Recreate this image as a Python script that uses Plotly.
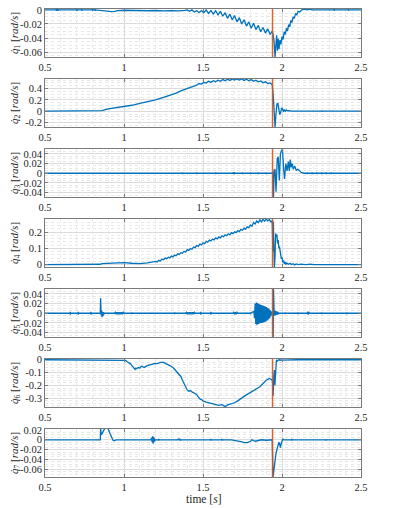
import plotly.graph_objects as go
from plotly.subplots import make_subplots

# Joint velocities (time in s, velocity in rad/s)

t1 = [0.5, 0.570, 0.571, 0.573, 0.575, 0.580, 0.581, 0.583, 0.585,
      0.700, 0.701, 0.703, 0.705, 0.730, 0.731, 0.733, 0.735,
      0.800, 0.801, 0.803, 0.805, 0.815, 0.816, 0.818, 0.820,
      0.860, 0.880, 0.900, 0.920, 0.940, 0.960, 1.000, 1.050, 1.100, 1.150,
      1.200, 1.250, 1.300, 1.350, 1.385,
      1.400, 1.415, 1.430, 1.445, 1.460, 1.475, 1.490, 1.505, 1.520, 1.535,
      1.550, 1.565, 1.580, 1.595, 1.610, 1.625, 1.640, 1.655, 1.670, 1.685,
      1.700, 1.715, 1.730, 1.745, 1.760, 1.775, 1.790, 1.805, 1.820, 1.835,
      1.850, 1.865, 1.880, 1.895, 1.910, 1.925, 1.938,
      1.944, 1.950, 1.956, 1.961, 1.966, 1.971, 1.976, 1.981, 1.987, 1.993,
      2.000, 2.007, 2.014, 2.021, 2.028, 2.035, 2.042, 2.049, 2.056, 2.063,
      2.070, 2.078, 2.086, 2.094, 2.102, 2.112, 2.125, 2.145, 2.160, 2.175, 2.190,
      2.329, 2.330, 2.331, 2.332, 2.419, 2.420, 2.421, 2.422, 2.5]
q1 = [0.0, 0.0, 0.0012, -0.0012, 0.0, 0.0, 0.0012, -0.0012, 0.0,
      0.0, 0.0012, -0.0012, 0.0, 0.0, 0.0012, -0.0012, 0.0,
      0.0, 0.0012, -0.0012, 0.0, 0.0, 0.0012, -0.0012, 0.0,
      -0.001, -0.0025, -0.003, -0.0025, -0.002, -0.001, -0.0005, -0.001, -0.0008, -0.0012,
      -0.0008, -0.0015, -0.001, -0.0015, -0.0005,
      0.000, -0.002, 0.000, -0.003, -0.001, -0.004, -0.001, -0.004, 0.000, -0.005,
      -0.001, -0.006, -0.001, -0.007, -0.002, -0.009, -0.004, -0.012, -0.006, -0.014,
      -0.008, -0.017, -0.011, -0.020, -0.014, -0.023, -0.017, -0.026, -0.019, -0.028,
      -0.022, -0.031, -0.025, -0.033, -0.027, -0.035, -0.030,
      -0.036, -0.045, -0.067, -0.040, -0.036, -0.058, -0.041, -0.056, -0.043, -0.049,
      -0.038, -0.042, -0.031, -0.035, -0.026, -0.030, -0.021, -0.024, -0.015, -0.018,
      -0.010, -0.012, -0.005, -0.007, -0.002, -0.003, 0.000, 0.001, 0.000, 0.001, 0.000,
      0.0, 0.0012, -0.0012, 0.0, 0.0, 0.0012, -0.0012, 0.0, 0.0]

t2 = [0.5, 0.850, 0.860, 0.900, 0.950, 1.000, 1.050, 1.100, 1.150, 1.200, 1.250,
      1.300, 1.330, 1.360, 1.400, 1.430,
      1.460, 1.475, 1.490, 1.505, 1.520, 1.535, 1.550, 1.565, 1.580, 1.595,
      1.610, 1.625, 1.640, 1.655, 1.670, 1.685, 1.700, 1.715, 1.730, 1.745,
      1.760, 1.775, 1.790, 1.805, 1.820, 1.835, 1.850, 1.865, 1.880, 1.895,
      1.910, 1.925, 1.938,
      1.944, 1.950, 1.956, 1.962, 1.968, 1.974, 1.980, 1.986, 1.992, 1.998,
      2.004, 2.010, 2.016, 2.022, 2.028, 2.036, 2.045, 2.060,
      2.249, 2.250, 2.254, 2.258, 2.5]
q2 = [0.0, 0.0, 0.010, 0.040, 0.060, 0.080, 0.105, 0.140, 0.170, 0.200, 0.245,
      0.290, 0.320, 0.360, 0.400, 0.440,
      0.460, 0.490, 0.480, 0.510, 0.500, 0.530, 0.510, 0.540, 0.520, 0.550,
      0.530, 0.560, 0.540, 0.565, 0.545, 0.570, 0.550, 0.570, 0.550, 0.570,
      0.545, 0.565, 0.540, 0.560, 0.530, 0.550, 0.520, 0.535, 0.505, 0.520,
      0.490, 0.500, 0.470,
      0.300, -0.100, -0.280, -0.050, 0.130, 0.140, 0.020, -0.060, -0.020, 0.060,
      0.040, -0.010, 0.030, 0.000, 0.020, 0.005, 0.010, 0.0,
      0.0, 0.010, -0.004, 0.0, 0.0]

t3 = [0.5,
      1.369, 1.370, 1.371, 1.372, 1.459, 1.460, 1.461, 1.462,
      1.579, 1.580, 1.581, 1.582, 1.689, 1.692, 1.695, 1.698, 1.701,
      1.749, 1.750, 1.751, 1.752, 1.799, 1.800, 1.801, 1.802,
      1.849, 1.850, 1.851, 1.852, 1.899, 1.900, 1.901, 1.902,
      1.938, 1.943, 1.946, 1.950, 1.956, 1.962, 1.970, 1.976, 1.983, 1.990,
      1.996, 2.003, 2.010, 2.016, 2.024, 2.032, 2.040, 2.046, 2.052, 2.058,
      2.064, 2.072, 2.080, 2.090, 2.100, 2.110, 2.120, 2.140,
      2.159, 2.160, 2.161, 2.162, 2.189, 2.190, 2.191, 2.192,
      2.219, 2.220, 2.221, 2.222, 2.249, 2.250, 2.251, 2.252,
      2.279, 2.280, 2.281, 2.282, 2.309, 2.310, 2.311, 2.312, 2.5]
q3 = [0.0,
      0.0, 0.002, -0.002, 0.0, 0.0, 0.002, -0.002, 0.0,
      0.0, 0.002, -0.002, 0.0, 0.0, 0.002, -0.002, 0.002, 0.0,
      0.0, 0.002, -0.002, 0.0, 0.0, 0.002, -0.002, 0.0,
      0.0, 0.002, -0.002, 0.0, 0.0, 0.002, -0.002, 0.0,
      0.0, 0.002, -0.049, 0.006, 0.008, -0.038, 0.030, 0.034, -0.015, 0.040,
      0.046, 0.050, 0.010, -0.012, 0.020, 0.005, 0.024, 0.005, 0.028, 0.012,
      0.020, 0.008, 0.015, 0.006, 0.008, 0.004, 0.002, 0.0,
      0.0, 0.002, -0.002, 0.0, 0.0, 0.002, -0.002, 0.0,
      0.0, 0.002, -0.002, 0.0, 0.0, 0.002, -0.002, 0.0,
      0.0, 0.002, -0.002, 0.0, 0.0, 0.002, -0.002, 0.0, 0.0]

t4 = [0.5, 0.600, 0.700, 0.800, 0.850, 0.860, 0.900, 0.950, 0.980, 1.000, 1.050,
      1.100, 1.150,
      1.20, 1.21, 1.22, 1.23, 1.24, 1.25, 1.26, 1.27, 1.28, 1.29,
      1.30, 1.31, 1.32, 1.33, 1.34, 1.35, 1.36, 1.37, 1.38, 1.39,
      1.40, 1.41, 1.42, 1.43, 1.44, 1.45, 1.46, 1.47, 1.48, 1.49,
      1.50, 1.51, 1.52, 1.53, 1.54, 1.55, 1.56, 1.57, 1.58, 1.59,
      1.60, 1.61, 1.62, 1.63, 1.64, 1.65, 1.66, 1.67, 1.68, 1.69,
      1.70, 1.71, 1.72, 1.73, 1.74, 1.75, 1.76, 1.77, 1.78, 1.79,
      1.80, 1.81, 1.82, 1.83, 1.84, 1.85, 1.86, 1.87, 1.88, 1.89,
      1.90, 1.91, 1.92, 1.93, 1.938,
      1.942, 1.945, 1.948, 1.952, 1.956, 1.960, 1.964, 1.968, 1.972, 1.976,
      1.980, 1.984, 1.988, 1.992, 1.996, 2.000, 2.005, 2.010, 2.015, 2.020,
      2.025, 2.030, 2.040, 2.050, 2.060, 2.070, 2.080, 2.090, 2.100, 2.120,
      2.150, 2.180, 2.200, 2.5]
q4 = [0.0, 0.0, 0.001, 0.001, 0.002, 0.006, 0.008, 0.012, 0.014, 0.012, 0.008,
      0.006, 0.010,
      0.020, 0.016, 0.026, 0.022, 0.033, 0.030, 0.040, 0.036, 0.045, 0.041,
      0.052, 0.047, 0.058, 0.054, 0.066, 0.062, 0.073, 0.069, 0.082, 0.077,
      0.092, 0.087, 0.098, 0.094, 0.108, 0.104, 0.117, 0.112, 0.126, 0.121,
      0.134, 0.128, 0.142, 0.137, 0.150, 0.145, 0.157, 0.151, 0.164, 0.158,
      0.170, 0.164, 0.176, 0.171, 0.183, 0.177, 0.189, 0.183, 0.196, 0.190,
      0.201, 0.196, 0.209, 0.203, 0.216, 0.211, 0.224, 0.218, 0.232, 0.227,
      0.243, 0.236, 0.258, 0.250, 0.268, 0.258, 0.275, 0.262, 0.278, 0.266,
      0.280, 0.268, 0.276, 0.262, 0.270,
      0.080, 0.265, 0.140, -0.015, 0.050, 0.190, 0.170, 0.185, 0.130, 0.150,
      0.100, 0.110, 0.070, 0.060, 0.035, 0.045, 0.015, 0.025, 0.005, 0.015,
      0.000, 0.010, 0.002, 0.008, 0.000, 0.005, -0.002, 0.004, 0.000, 0.003,
      0.000, 0.003, 0.000, 0.0]

t5 = [0.5,
      0.659, 0.660, 0.661, 0.662, 0.709, 0.710, 0.711, 0.712,
      0.789, 0.790, 0.791, 0.792,
      0.850, 0.852, 0.855, 0.858, 0.861, 0.864, 0.867, 0.870, 0.874, 0.878,
      0.940, 0.945, 0.950, 0.955, 0.960, 0.965, 0.970, 0.975, 0.980, 0.985,
      0.990, 0.995, 1.000,
      1.049, 1.050, 1.051, 1.052, 1.319, 1.320, 1.321, 1.322,
      1.390, 1.395, 1.400, 1.405, 1.410, 1.415, 1.420, 1.425, 1.430, 1.435,
      1.440, 1.445, 1.450,
      1.484, 1.485, 1.486, 1.487, 1.549, 1.550, 1.551, 1.552,
      1.690, 1.695, 1.700, 1.705, 1.710, 1.715, 1.720,
      1.799, 1.800, 1.801, 1.802,
      1.822, 1.826, 1.830, 1.834, 1.838, 1.842, 1.846, 1.850, 1.854, 1.858,
      1.862, 1.866, 1.870, 1.874, 1.878, 1.882, 1.886, 1.890, 1.894, 1.898,
      1.902, 1.906, 1.910, 1.914, 1.918, 1.922, 1.926, 1.930, 1.934,
      1.942, 1.944, 1.946, 1.950, 1.954, 1.958, 1.962, 1.966, 1.970, 1.974,
      1.978, 1.982,
      2.019, 2.020, 2.021, 2.022, 2.099, 2.100, 2.101, 2.102,
      2.160, 2.163, 2.166, 2.169, 2.172,
      2.249, 2.250, 2.251, 2.252, 2.409, 2.410, 2.411, 2.412, 2.5]
q5 = [0.0,
      0.0, 0.003, -0.003, 0.0, 0.0, 0.003, -0.003, 0.0,
      0.0, 0.003, -0.003, 0.0,
      0.0, 0.031, -0.004, 0.006, -0.008, 0.003, -0.006, 0.002, -0.002, 0.0,
      0.0, 0.002, -0.002, 0.002, -0.002, 0.002, -0.002, 0.002, -0.002, 0.002,
      -0.002, 0.002, 0.0,
      0.0, 0.002, -0.002, 0.0, 0.0, 0.002, -0.002, 0.0,
      0.0, 0.002, -0.002, 0.002, -0.002, 0.002, -0.002, 0.002, -0.002, 0.002,
      -0.002, 0.002, 0.0,
      0.0, 0.003, -0.003, 0.0, 0.0, 0.003, -0.003, 0.0,
      0.0, 0.002, -0.002, 0.002, -0.002, 0.002, 0.0,
      0.0, 0.002, -0.002, 0.0,
      0.004, -0.010, 0.020, -0.022, 0.022, -0.024, 0.021, -0.022, 0.019, -0.021,
      0.018, -0.020, 0.017, -0.020, 0.016, -0.019, 0.015, -0.018, 0.014, -0.017,
      0.013, -0.015, 0.011, -0.013, 0.009, -0.010, 0.006, -0.006, 0.002,
      0.0, -0.049, 0.050, 0.004, -0.005, 0.005, -0.004, 0.004, -0.003, 0.003,
      -0.002, 0.0,
      0.0, 0.002, -0.002, 0.0, 0.0, 0.002, -0.002, 0.0,
      0.0, 0.003, -0.003, 0.003, 0.0,
      0.0, 0.002, -0.002, 0.0, 0.0, 0.002, -0.002, 0.0, 0.0]

t6 = [0.5, 0.850, 0.852, 0.855, 0.900, 0.950, 1.000, 1.010, 1.020, 1.030,
      1.040, 1.050, 1.060, 1.070, 1.075, 1.080, 1.090, 1.100, 1.110, 1.120,
      1.130, 1.140, 1.150, 1.170, 1.190, 1.210, 1.230, 1.250, 1.270, 1.290,
      1.310, 1.330, 1.350, 1.360, 1.370, 1.380, 1.390, 1.400, 1.410, 1.420,
      1.430, 1.440, 1.450, 1.460, 1.470, 1.480, 1.490, 1.500, 1.520, 1.540,
      1.560, 1.580, 1.600, 1.620, 1.640, 1.660, 1.680, 1.700, 1.720, 1.740,
      1.760, 1.780, 1.800, 1.820, 1.840, 1.860, 1.880, 1.900, 1.920, 1.935,
      1.940, 1.944, 1.948, 1.952, 1.955, 1.960, 1.965, 1.970, 1.980, 2.000,
      2.100, 2.5]
q6 = [0.0, 0.0, -0.004, 0.0, 0.0, -0.002, 0.0, -0.005, -0.015, -0.020,
      -0.030, -0.045, -0.060, -0.075, -0.065, -0.070, -0.060, -0.065, -0.050, -0.055,
      -0.060, -0.050, -0.045, -0.035, -0.030, -0.030, -0.020, -0.020, -0.030, -0.045,
      -0.060, -0.085, -0.110, -0.130, -0.160, -0.190, -0.220, -0.235, -0.245, -0.240,
      -0.250, -0.255, -0.260, -0.270, -0.290, -0.305, -0.310, -0.320, -0.330, -0.335,
      -0.345, -0.350, -0.355, -0.350, -0.365, -0.350, -0.345, -0.335, -0.320, -0.300,
      -0.285, -0.270, -0.255, -0.235, -0.225, -0.210, -0.185, -0.160, -0.145, -0.155,
      -0.170, -0.280, -0.130, -0.080, -0.200, -0.030, 0.000, -0.010, 0.000, -0.002,
      0.0, 0.0]

t7 = [0.5, 0.850, 0.852, 0.856, 0.862, 0.870, 0.880, 0.890, 0.900, 0.910,
      0.920, 0.930, 0.940, 0.950,
      1.170, 1.175, 1.178, 1.181, 1.184, 1.187, 1.190, 1.193, 1.196, 1.200,
      1.219, 1.220, 1.221, 1.222,
      1.340, 1.344, 1.348, 1.352, 1.356, 1.360,
      1.549, 1.550, 1.551, 1.552, 1.619, 1.620, 1.621, 1.622,
      1.680, 1.700, 1.720, 1.740, 1.760, 1.780, 1.800, 1.810, 1.830, 1.850,
      1.870, 1.900, 1.938,
      1.943, 1.950, 1.956, 1.962, 1.968, 1.975, 1.980, 1.985, 1.990, 1.995,
      2.000, 2.005, 2.010,
      2.060, 2.061, 2.062, 2.063, 2.279, 2.280, 2.281, 2.282, 2.5]
q7 = [0.0, 0.0, 0.025, 0.010, 0.013, 0.019, 0.024, 0.025, 0.022, 0.014,
      0.005, -0.001, -0.002, 0.0,
      0.0, 0.004, -0.005, 0.007, -0.008, 0.006, -0.005, 0.003, -0.002, 0.0,
      0.0, 0.002, -0.002, 0.0,
      0.0, 0.002, -0.001, 0.002, -0.001, 0.0,
      0.0, 0.002, -0.002, 0.0, 0.0, 0.002, -0.002, 0.0,
      0.0, -0.001, -0.002, -0.004, -0.006, -0.006, -0.003, 0.000, -0.003, -0.001,
      0.000, -0.001, 0.000,
      -0.076, -0.060, -0.036, -0.028, -0.020, -0.010, -0.005, -0.008, -0.016, -0.008,
      0.000, 0.002, 0.000,
      0.0, 0.002, -0.002, 0.0, 0.0, -0.002, 0.001, 0.0, 0.0]

event_time = 1.94  # red marker

series = [(t1, q1), (t2, q2), (t3, q3), (t4, q4), (t5, q5), (t6, q6), (t7, q7)]

y_ranges = [[-0.067, 0.0013], [-0.28, 0.57], [-0.049, 0.05], [-0.015, 0.28],
            [-0.049, 0.05], [-0.368, 0.006], [-0.076, 0.022]]
y_ticks = [[-0.06, -0.04, -0.02, 0], [-0.2, 0, 0.2, 0.4],
           [-0.04, -0.02, 0, 0.02, 0.04], [0, 0.1, 0.2],
           [-0.04, -0.02, 0, 0.02, 0.04], [-0.3, -0.2, -0.1, 0],
           [-0.06, -0.04, -0.02, 0, 0.02]]
y_ticktext = [['-0.06', '-0.04', '-0.02', '0'], ['-0.2', '0', '0.2', '0.4'],
              ['-0.04', '-0.02', '0', '0.02', '0.04'], ['0', '0.1', '0.2'],
              ['-0.04', '-0.02', '0', '0.02', '0.04'], ['-0.3', '-0.2', '-0.1', '0'],
              ['-0.06', '-0.04', '-0.02', '0', '0.02']]
y_minor = [0.005, 0.05, 0.005, 0.02, 0.005, 0.02, 0.005]
x_ticks = [0.5, 1, 1.5, 2, 2.5]
x_ticktext = ['0.5', '1', '1.5', '2', '2.5']

FONT = '"Liberation Serif", "DejaVu Serif", serif'
BLUE = '#0072BD'
ORANGE = '#D95319'

# plot area geometry (px)
W, H = 395, 509
M_L, M_R, M_T, M_B = 45, 34, 9, 32
PLOT_H = H - M_T - M_B
GAP = 22

fig = make_subplots(rows=7, cols=1, vertical_spacing=GAP / PLOT_H)

axis_common = dict(
    showline=True, linecolor='#7a7a7a', linewidth=1, mirror='ticks',
    ticks='inside', ticklen=3, tickcolor='#7a7a7a',
    showgrid=True, gridcolor='#dcdcdc', gridwidth=1, zeroline=False,
    automargin=False,
    tickfont=dict(family=FONT, size=10.5, color='#262626'),
)
minor_grid = dict(tick0=0, showgrid=True, gridcolor='#e8e8e8', griddash='dot')

for i, (t, q) in enumerate(series, start=1):
    fig.add_trace(go.Scatter(
        x=t, y=q, mode='lines',
        line=dict(color=BLUE, width=1.3),
        showlegend=False, hoverinfo='skip',
    ), row=i, col=1)

    fig.add_vline(x=event_time, line=dict(color=ORANGE, width=1.5), opacity=0.9, row=i, col=1)

    fig.update_xaxes(
        range=[0.5, 2.5], tickmode='array', tickvals=x_ticks, ticktext=x_ticktext,
        minor=dict(dtick=0.1, **minor_grid),
        **axis_common, row=i, col=1,
    )
    fig.update_yaxes(
        range=y_ranges[i - 1], tickmode='array', tickvals=y_ticks[i - 1],
        ticktext=y_ticktext[i - 1],
        minor=dict(dtick=y_minor[i - 1], **minor_grid),
        **axis_common, row=i, col=1,
    )

    yref = 'y domain' if i == 1 else f'y{i} domain'
    fig.add_annotation(
        text=f'<i>q̇</i><sub>{i}</sub> [<i>rad/s</i>]',
        xref='paper', yref=yref, x=(15 - M_L) / (W - M_L - M_R), y=0.5,
        xanchor='center', yanchor='middle', textangle=-90, showarrow=False,
        font=dict(family=FONT, size=11, color='#262626'),
    )

fig.add_annotation(
    text='time [<i>s</i>]', xref='paper', yref='paper',
    x=0.5, y=-22 / PLOT_H, xanchor='center', yanchor='middle', showarrow=False,
    font=dict(family=FONT, size=11.5, color='#262626'),
)

fig.update_layout(
    width=W, height=H,
    margin=dict(l=M_L, r=M_R, t=M_T, b=M_B),
    plot_bgcolor='white', paper_bgcolor='white',
    showlegend=False,
)

# the page body has a default 8px margin; drop it so the figure sits at the window origin
fig.write_html(
    "out.html",
    config={'displayModeBar': False},
    post_script="document.body.style.margin = '0';",
)
